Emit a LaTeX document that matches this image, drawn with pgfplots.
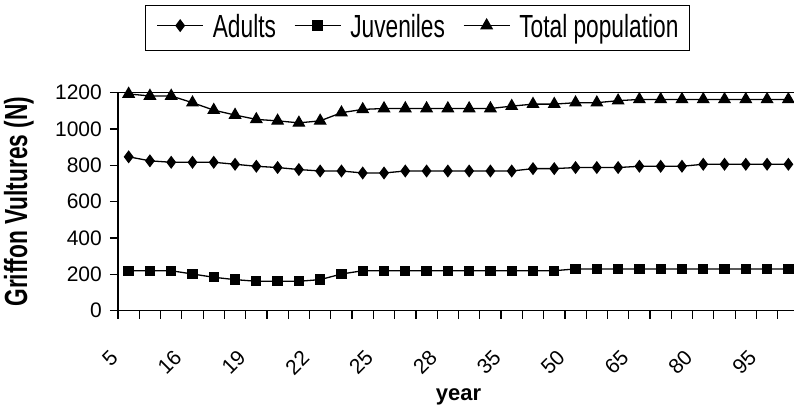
\documentclass[border=0pt]{standalone}
\usepackage{fontspec}
\setmainfont{Liberation Sans}
\newfontfamily\narrowfont[FakeStretch=0.71]{Liberation Sans}
\usepackage{pgfplots}
\pgfplotsset{compat=1.18}

\begin{document}
\begin{tikzpicture}
\begin{axis}[
    scale only axis,
    width=681pt, height=218pt,
    at={(118pt,95.3pt)}, anchor=south west,
    clip=false,
    xmin=-0.5, xmax=31.5,
    ymin=0, ymax=1200,
    ytick={0,200,...,1200},
    minor ytick={0,200,...,1200},
    xtick={0,3,...,30},
    xticklabels={5,16,19,22,25,28,35,50,65,80,95},
    minor xtick={-0.5,0.5,...,31.5},
    tick align=outside,
    xtick pos=bottom, ytick pos=left,
    major tick length=0pt,
    minor tick length=8pt,
    axis line style={line width=1.2pt},
    tick style={line width=1.2pt, black},
    /pgf/number format/assume math mode=true,
    /pgf/number format/1000 sep={},
    yticklabel style={font=\fontsize{21}{24}\selectfont, inner sep=0pt, anchor=east, xshift=-16pt},
    xticklabel style={font=\fontsize{21}{24}\selectfont, inner sep=0pt, anchor=east, xshift=-14.5pt, yshift=-43.5pt, rotate=45},
    xlabel={year},
    xlabel style={font=\bfseries\fontsize{22}{26}\selectfont, at={(axis description cs:0.5,-0.41)}, anchor=base},
    ylabel={Griffon Vultures (N)},
    ylabel style={font=\narrowfont\bfseries\fontsize{32}{38}\selectfont, at={(axis description cs:-0.1335,0.5)}, anchor=base},
    legend columns=3,
    legend style={at={(0.4398,1.2968)}, anchor=center, draw=black, line width=1.2pt,
        inner xsep=11pt, inner ysep=9pt,
        font=\narrowfont\fontsize{32}{38}\selectfont,
        nodes={inner sep=0pt, text height=23pt, text depth=4.7pt},
        /tikz/every odd column/.append style={column sep=9pt},
        /tikz/every even column/.append style={column sep=18pt}},
    legend image code/.code={
        \draw[mark repeat=2, mark phase=2, #1] plot coordinates {(0pt,2.4pt) (23pt,2.4pt) (46pt,2.4pt)};
    },
]
% Adults
\addplot[black, line width=1.3pt, mark=diamond*, mark size=5.5pt] coordinates {
    (0,847) (1,825) (2,817) (3,817) (4,817) (5,806) (6,795) (7,788)
    (8,777) (9,769) (10,769) (11,758) (12,758) (13,769) (14,769) (15,769)
    (16,769) (17,769) (18,769) (19,782) (20,782) (21,788) (22,788) (23,788)
    (24,795) (25,795) (26,795) (27,806) (28,806) (29,806) (30,806) (31,806)
};
\addlegendentry{Adults}
% Juveniles
\addplot[black, line width=1.3pt, mark=square*, mark size=4.5pt] coordinates {
    (0,220) (1,220) (2,220) (3,202) (4,184) (5,171) (6,162) (7,162)
    (8,162) (9,171) (10,202) (11,220) (12,220) (13,220) (14,220) (15,220)
    (16,220) (17,220) (18,220) (19,220) (20,220) (21,230) (22,230) (23,230)
    (24,230) (25,230) (26,230) (27,230) (28,230) (29,230) (30,230) (31,230)
};
\addlegendentry{Juveniles}
% Total population
\addplot[black, line width=1.3pt, mark=triangle*, mark size=6.3pt] coordinates {
    (0,1193) (1,1182) (2,1182) (3,1145) (4,1104) (5,1077) (6,1053) (7,1045)
    (8,1034) (9,1045) (10,1090) (11,1108) (12,1113) (13,1113) (14,1113) (15,1113)
    (16,1113) (17,1113) (18,1126) (19,1137) (20,1137) (21,1145) (22,1145) (23,1156)
    (24,1163) (25,1163) (26,1163) (27,1163) (28,1163) (29,1163) (30,1163) (31,1163)
};
\addlegendentry{Total population}
\end{axis}
\pgfresetboundingbox
\path[use as bounding box] (0,0) rectangle (794pt,406pt);
\end{tikzpicture}
\end{document}
